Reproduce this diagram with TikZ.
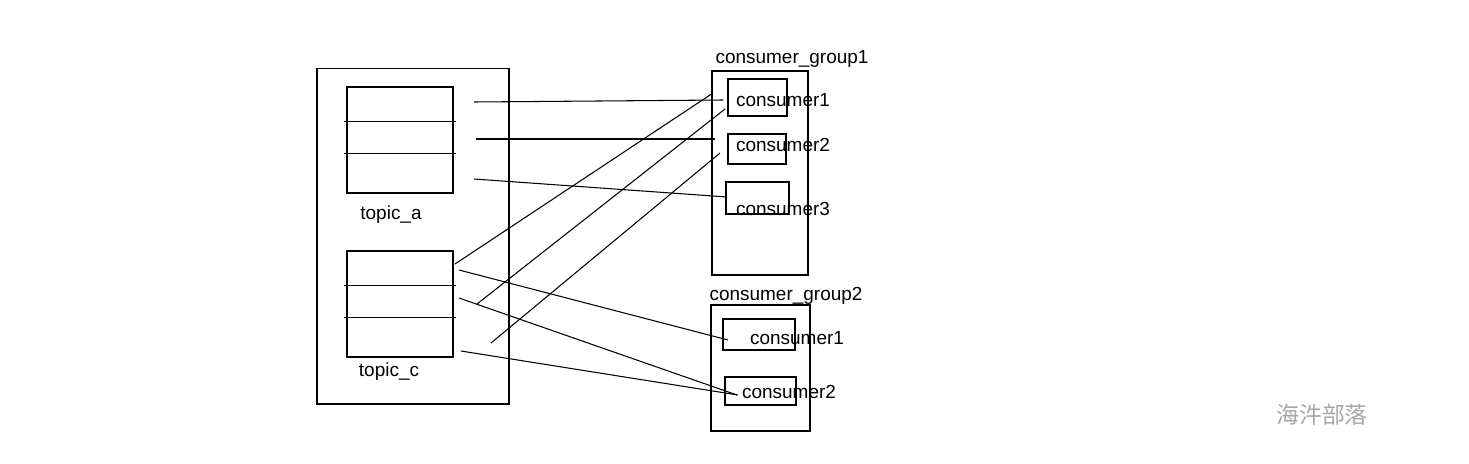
\documentclass[tikz,border=0pt]{standalone}
\usepackage{fontspec}
\setmainfont{Liberation Sans}
\newfontfamily\cjk{Noto Sans CJK SC}
\usetikzlibrary{positioning, calc}

\begin{document}
\begin{tikzpicture}[x=0.02cm,y=-0.02cm,line width=0.6pt,
      box/.style={draw,inner sep=0pt,minimum width=#1},
      lbl/.style={inner sep=0pt,font=\fontsize{10.8}{12}\selectfont}]
      \useasboundingbox (0,0) rectangle (1469,463);
      % broker with its two topics
      \node[box=3.84cm,minimum height=6.72cm] (broker) at (413,236) {};
      \node[box=2.12cm,minimum height=2.12cm] (ta) at (400,140) {};
      \node[box=2.12cm,minimum height=2.12cm] (tc) at (400,304) {};
      \foreach \t in {ta,tc} {
        \draw ($(\t.north west)+(-2,35)$) -- ($(\t.north east)+(2,35)$);
        \draw ($(\t.north west)+(-2,67)$) -- ($(\t.north east)+(2,67)$);
      }
      \node[lbl] (talbl) at (391,215) {topic\_a};
      \node[lbl] (tclbl) at (389,372) {topic\_c};
      % consumer groups
      \node[box=1.92cm,minimum height=4.08cm] (grpa) at (760,173) {};
      \node[lbl] (grpalbl) at (792,59) {consumer\_group1};
      \node[box=1.18cm,minimum height=0.74cm] (ca1) at (757.5,97.5) {};
      \node[box=1.16cm,minimum height=0.60cm] (ca2) at (757,149) {};
      \node[box=1.26cm,minimum height=0.64cm] (ca3) at (757.5,198) {};
      \node[lbl] at (783,100) {consumer1};
      \node[lbl] at (783,145) {consumer2};
      \node[lbl] at (783,209) {consumer3};
      \node[box=1.98cm,minimum height=2.52cm] (grpb) at (760.5,368) {};
      \node[lbl] (grpblbl) at (786,296) {consumer\_group2};
      \node[box=1.44cm,minimum height=0.62cm] (cb1) at (759,334.5) {};
      \node[box=1.42cm,minimum height=0.56cm] (cb2) at (760.5,391) {};
      \node[lbl] at (797,338) {consumer1};
      \node[lbl] at (789,392) {consumer2};
      % line ends
      \coordinate (a1) at (474,102); \coordinate (a2) at (476,139);
      \coordinate (a3) at (474,179);
      \coordinate (b1) at (455,264); \coordinate (b2) at (477,304);
      \coordinate (b3) at (491,343); \coordinate (b4) at (459,270);
      \coordinate (b5) at (459,298); \coordinate (b6) at (461,351);
      \coordinate (u1) at (723,100); \coordinate (u2) at (715,139);
      \coordinate (u3) at (727,197); \coordinate (v1) at (713,93);
      \coordinate (v2) at (725,109); \coordinate (v3) at (720,153);
      \coordinate (w1) at (728,340); \coordinate (w2) at (737,395);
      \coordinate (w3) at (738,395);
      \foreach \s/\e in {a1/u1,a2/u2,a3/u3,b1/v1,b2/v2,b3/v3,b4/w1,b5/w2,b6/w3}
        \draw (\s) -- (\e);
      \node[text=black!35,font=\cjk\fontsize{13}{14}\selectfont] (mark) at (1322,415) {海汼部落};
    \end{tikzpicture}
\end{document}
